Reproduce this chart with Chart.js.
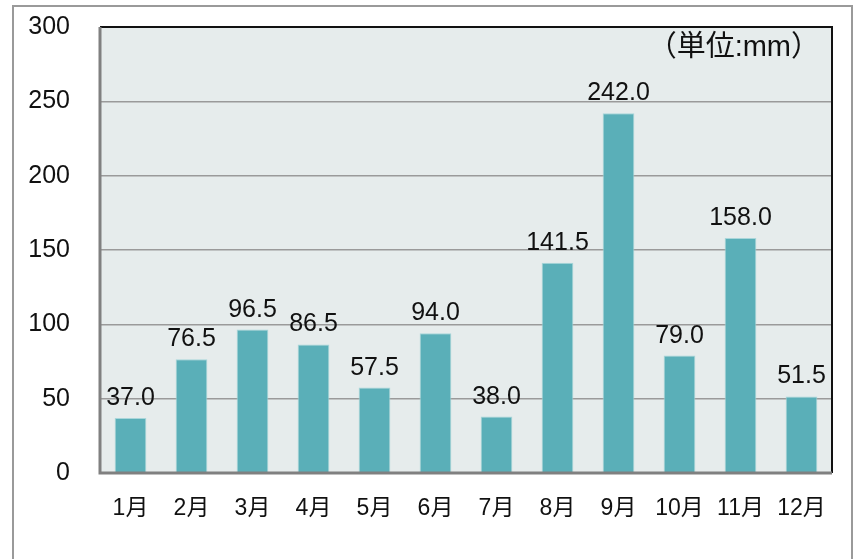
<!DOCTYPE html>
<html lang="ja">
<head>
<meta charset="UTF-8">
<title>月別降水量</title>
<script src="https://cdn.jsdelivr.net/npm/chart.js"></script>
<style>
    html, body { margin: 0; padding: 0; background: #fff; }
    #caixa { position: relative; width: 861px; height: 559px; }
</style>
</head>
<body>
<div id="caixa">
    <canvas id="barra" width="861" height="559"></canvas>
</div>
<script>
    // dados do gráfico
    const meses = ['1月', '2月', '3月', '4月', '5月', '6月', '7月', '8月', '9月', '10月', '11月', '12月'];
    const chuva = [37.0, 76.5, 96.5, 86.5, 57.5, 94.0, 38.0, 141.5, 242.0, 79.0, 158.0, 51.5];
    const ticksY = [0, 50, 100, 150, 200, 250, 300];
    const unidade = '（単位:mm）';

    const fonte = '"Liberation Sans", Arial, "Noto Sans CJK JP", sans-serif';

    // moldura externa + fundo da área do gráfico
    const fundo = {
        id: 'fundo',
        beforeDraw(chart) {
            const ctx = chart.ctx;
            const a = chart.chartArea;
            ctx.save();
            ctx.strokeStyle = '#9a9a9a';
            ctx.lineWidth = 2;
            ctx.beginPath();
            ctx.moveTo(13, 560);
            ctx.lineTo(13, 6);
            ctx.lineTo(852, 6);
            ctx.lineTo(852, 560);
            ctx.stroke();
            ctx.fillStyle = '#e6ecec';
            ctx.fillRect(a.left, a.top, a.right - a.left, a.bottom - a.top);
            ctx.restore();
        },
        afterDraw(chart) {
            const ctx = chart.ctx;
            const a = chart.chartArea;
            ctx.save();
            // borda superior e direita
            ctx.strokeStyle = '#111';
            ctx.lineWidth = 2;
            ctx.beginPath();
            ctx.moveTo(a.left, a.top);
            ctx.lineTo(a.right, a.top);
            ctx.lineTo(a.right, a.bottom);
            ctx.stroke();
            // eixos esquerdo e inferior
            ctx.strokeStyle = '#808080';
            ctx.lineWidth = 3;
            ctx.beginPath();
            ctx.moveTo(a.left, a.top);
            ctx.lineTo(a.left, a.bottom);
            ctx.lineTo(a.right, a.bottom);
            ctx.stroke();
            // unidade
            ctx.fillStyle = '#111';
            ctx.font = '29px ' + fonte;
            ctx.textAlign = 'right';
            ctx.textBaseline = 'middle';
            ctx.fillText(unidade, a.right - 12, 48);
            ctx.restore();
        }
    };

    // rótulos de valor acima das barras
    const rotulos = {
        id: 'rotulos',
        afterDatasetsDraw(chart) {
            const ctx = chart.ctx;
            const meta = chart.getDatasetMeta(0);
            ctx.save();
            ctx.fillStyle = '#111';
            ctx.font = '25px ' + fonte;
            ctx.textAlign = 'center';
            ctx.textBaseline = 'alphabetic';
            meta.data.forEach(function (bar, i) {
                ctx.fillText(chuva[i].toFixed(1), bar.x, bar.y - 13);
            });
            ctx.restore();
        }
    };

    const ctx = document.getElementById('barra').getContext('2d');
    new Chart(ctx, {
        type: 'bar',
        data: {
            labels: meses,
            datasets: [{
                data: chuva,
                backgroundColor: '#5aafb8',
                borderColor: '#a9d6da',
                borderWidth: 1,
                categoryPercentage: 0.52,
                barPercentage: 1
            }]
        },
        options: {
            responsive: false,
            animation: false,
            layout: { padding: { top: 27, right: 29, left: 0, bottom: 0 } },
            plugins: {
                legend: { display: false },
                tooltip: { enabled: false }
            },
            scales: {
                x: {
                    grid: { display: false, drawTicks: false },
                    border: { display: false },
                    ticks: {
                        color: '#111',
                        font: { size: 23, family: fonte },
                        padding: 22,
                        maxRotation: 0,
                        autoSkip: false
                    },
                    afterFit(scale) {
                        scale.height = 86;
                        scale.paddingLeft = 0;
                        scale.paddingRight = 0;
                    }
                },
                y: {
                    min: 0,
                    max: 300,
                    afterBuildTicks(scale) {
                        scale.ticks = ticksY.map(v => ({ value: v }));
                    },
                    grid: { color: '#9a9a9a', lineWidth: 1.5, drawTicks: false },
                    border: { display: false },
                    ticks: {
                        color: '#111',
                        font: { size: 25, family: fonte },
                        padding: 30
                    },
                    afterFit(scale) {
                        scale.width = 100;
                        scale.paddingTop = 0;
                        scale.paddingBottom = 0;
                    }
                }
            }
        },
        plugins: [fundo, rotulos]
    });
</script>
</body>
</html>
